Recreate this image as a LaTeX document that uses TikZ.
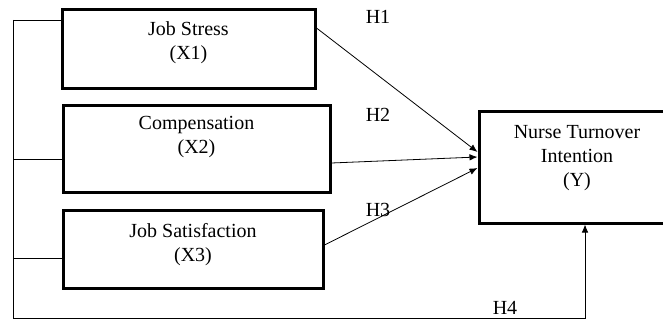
\documentclass[tikz,border=0pt]{standalone}
\usepackage{fontspec}
\setmainfont{Liberation Serif}
\usetikzlibrary{arrows.meta, positioning, calc}

\begin{document}
\begin{tikzpicture}[x=1pt, y=1pt,
  varbox/.style={draw=black, line width=3pt, align=center, inner sep=0pt,
    font=\fontsize{20}{24}\selectfont},
  hyp/.style={font=\fontsize{20}{24}\selectfont, inner sep=0pt},
  link/.style={draw=black, line width=0.8pt},
  arr/.style={link, -{Latex[length=8pt, width=6.5pt]}}
]
  \useasboundingbox (0,0) rectangle (663,322);
  \clip (0,0) rectangle (663,322);

  \node[varbox, minimum width=253pt, minimum height=78pt, text depth=16pt] (x1) at (188.5,273) {Job Stress\\(X1)};
  \node[varbox, minimum width=267pt, minimum height=87pt, text depth=27pt] (x2) at (196.5,173.5) {Compensation\\(X2)};
  \node[varbox, minimum width=260pt, minimum height=78pt, text depth=14pt] (x3) at (193,73) {Job Satisfaction\\(X3)};

  \node[varbox, minimum width=196pt, minimum height=112pt, text depth=22pt] (y) at (577,155) {Nurse Turnover\\Intention\\(Y)};

  \node[hyp] (h1) at (378,305) {H1};
  \node[hyp] (h2) at (378,207) {H2};
  \node[hyp] (h3) at (378,112) {H3};
  \node[hyp] (h4) at (505,14) {H4};

  \draw[arr] ([yshift=21pt]x1.east) -- ([yshift=15pt]y.west);
  \draw[arr] ([yshift=-14.5pt]x2.east) -- ([yshift=10pt]y.west);
  \draw[arr] ([yshift=4pt]x3.east) -- ([yshift=-1pt]y.west);

  % left bracket and H4 path
  \coordinate (lb) at (13,4);
  \draw[link] ([yshift=29pt]x1.west) -- ([yshift=29pt]x1.west -| lb) coordinate (lt);
  \draw[arr] (lt) -- (lb) -| ([xshift=8pt]y.south);
  \draw[link] ([yshift=-10.5pt]x2.west) -- ([yshift=-10.5pt]x2.west -| lb);
  \draw[link] ([yshift=-9pt]x3.west) -- ([yshift=-9pt]x3.west -| lb);
\end{tikzpicture}
\end{document}
